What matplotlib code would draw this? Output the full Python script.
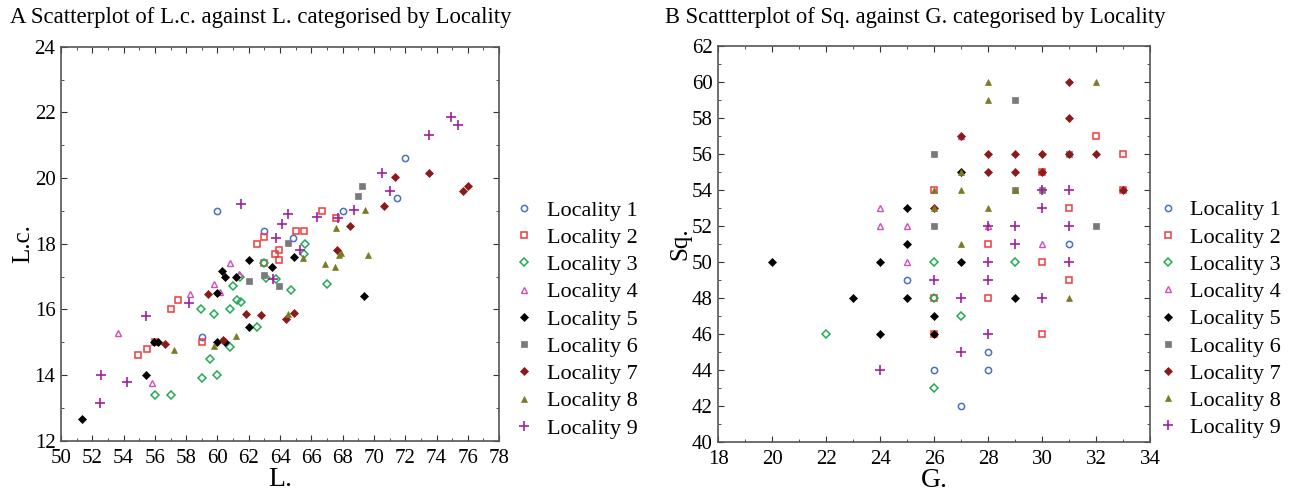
#
# Scatterplots of shell measurements categorised by locality
#
from matplotlib import pyplot as plt
from matplotlib.ticker import MultipleLocator
import numpy as np

plt.rcParams['font.family'] = ['Liberation Serif', 'DejaVu Serif']

labels = ['Locality %d' % i for i in range(1, 10)]

# ---- Plot A : L.c. against L.
a_L = [
  [60.0, 72.0, 71.5, 68.0, 64.8, 63.0, 59.0],
  [66.7, 67.55, 65.0, 65.5, 63.7, 63.95, 63.95, 63.0, 62.5, 63.0, 57.45, 57.0, 59.0, 56.0, 55.5, 54.95],
  [65.6, 65.5, 63.75, 64.7, 67.0, 63.0, 63.1, 61.45, 61.0, 61.25, 61.5, 58.95, 59.8, 60.8, 62.5, 60.8, 59.5, 59.0, 60.0, 56.0, 57.0],
  [60.8, 61.35, 59.8, 60.15, 58.25, 53.65, 55.8],
  [64.9, 63.5, 62.0, 60.3, 60.5, 61.2, 60.0, 69.35, 62.0, 60.0, 60.5, 55.95, 56.2, 55.45, 51.35],
  [69.25, 68.95, 64.5, 63.95, 62.95, 62.0],
  [71.35, 73.5, 75.7, 76.0, 70.65, 68.45, 67.65, 64.9, 64.35, 59.4, 61.8, 62.8, 60.35, 56.65],
  [69.4, 67.55, 65.45, 67.75, 67.9, 69.6, 66.85, 67.5, 64.5, 61.2, 59.75, 57.25],
  [74.95, 75.35, 73.55, 70.5, 71.0, 68.75, 66.35, 67.7, 64.5, 64.15, 63.75, 65.3, 63.55, 61.5, 58.15, 55.45, 52.55, 54.2, 52.5],
]
a_Lc = [
  [19.0, 20.6, 19.4, 19.0, 18.18, 18.4, 15.17],
  [19.0, 18.77, 18.4, 18.4, 17.7, 17.8, 17.5, 18.2, 18.0, 17.4, 16.3, 16.0, 15.0, 15.0, 14.8, 14.6],
  [17.98, 17.7, 16.92, 16.58, 16.78, 17.4, 16.97, 17.0, 16.7, 16.3, 16.22, 16.0, 15.87, 16.0, 15.47, 14.85, 14.5, 13.9, 14.0, 13.4, 13.4],
  [17.42, 17.08, 16.78, 16.52, 16.48, 15.27, 13.77],
  [17.6, 17.3, 17.5, 17.17, 17.0, 17.0, 16.5, 16.4, 15.47, 15.0, 15.0, 15.0, 15.0, 14.0, 12.66],
  [19.75, 19.45, 18.03, 16.7, 17.04, 16.87],
  [20.02, 20.15, 19.62, 19.75, 19.14, 18.55, 17.8, 15.9, 15.7, 16.48, 15.87, 15.84, 15.07, 14.94],
  [19.03, 18.47, 17.57, 17.65, 17.73, 17.66, 17.37, 17.3, 15.87, 15.2, 14.88, 14.76],
  [21.85, 21.62, 21.32, 20.15, 19.62, 19.03, 18.8, 18.77, 18.9, 18.6, 18.18, 17.8, 16.93, 19.2, 16.2, 15.8, 14.0, 13.78, 13.16],
]

# ---- Plot B : Sq. against G.
b_G = [
  [25, 31, 28, 26, 28, 27],
  [28, 30, 31, 26, 28, 26, 30, 32, 33, 30, 26, 33, 31],
  [22, 26, 29, 26, 27, 26],
  [24, 24, 25, 25, 30, 27, 28],
  [20, 23, 24, 24, 25, 25, 25, 27, 26, 26, 29, 27],
  [29, 26, 31, 26, 32, 29, 30],
  [31, 31, 27, 28, 29, 30, 31, 32, 28, 29, 30, 26, 33],
  [28, 32, 28, 27, 26, 27, 29, 26, 28, 27, 31],
  [30, 31, 30, 28, 29, 31, 29, 28, 31, 26, 28, 27, 30, 28, 27, 24],
]
b_Sq = [
  [49, 51, 45, 44, 44, 42],
  [51, 50, 49, 48, 48, 46, 46, 57, 56, 55, 54, 54, 53],
  [46, 50, 50, 48, 47, 43],
  [53, 52, 52, 50, 51, 57, 52],
  [50, 48, 50, 46, 53, 51, 48, 50, 47, 46, 48, 55],
  [59, 56, 56, 52, 52, 54, 54],
  [60, 58, 57, 56, 56, 56, 56, 56, 55, 55, 55, 53, 54],
  [60, 60, 59, 55, 54, 54, 54, 53, 53, 51, 48],
  [54, 54, 53, 52, 52, 52, 51, 50, 50, 49, 49, 48, 48, 46, 45, 44],
]

styles = [
  dict(marker='o', mfc='none', mec='#4a6fc9', ms=4.5, mew=1.1),
  dict(marker='s', mfc='none', mec='#ee3b3b', ms=5, mew=1.1),
  dict(marker='D', mfc='none', mec='#22aa55', ms=4, mew=1.1),
  dict(marker='^', mfc='none', mec='#d050b8', ms=5, mew=1.0),
  dict(marker='D', mfc='black', mec='black', ms=4.2, mew=0.5),
  dict(marker='s', mfc='#7a7a7a', mec='#7a7a7a', ms=5, mew=0.5),
  dict(marker='D', mfc='#8b1a1a', mec='#8b1a1a', ms=4, mew=0.5),
  dict(marker='^', mfc='#7d7a25', mec='#7d7a25', ms=5, mew=0.5),
  dict(marker='+', mfc='none', mec='#a020a0', ms=6.5, mew=1.2),
]

fig = plt.figure(figsize=(12.96, 4.91), dpi=100)

#-------------------------------------------------------------------------------
def style_axes(ax, xmaj, ymaj):
  ax.xaxis.set_major_locator(MultipleLocator(xmaj))
  ax.xaxis.set_minor_locator(MultipleLocator(1))
  ax.yaxis.set_major_locator(MultipleLocator(ymaj))
  ax.yaxis.set_minor_locator(MultipleLocator(1))
  ax.tick_params(which='both', direction='in', top=True, right=True, labelsize=15, colors='#333333', labelcolor='black')
  ax.tick_params(which='major', length=4)
  ax.tick_params(which='minor', length=2.5)
  ax.tick_params(axis='x', which='major', pad=6)
  ax.tick_params(axis='y', which='major', pad=4)
  for s in ax.spines.values():
    s.set_color('#555555')
    s.set_linewidth(1.2)

def scatter(ax, xs, ys, legend_x):
  for i in range(9):
    ax.plot(xs[i], ys[i], linestyle='none', label=labels[i], **styles[i])
  ax.legend(loc='upper left', bbox_to_anchor=(legend_x, 0.633), frameon=False, fontsize=16,
            handlelength=0.8, handletextpad=0.62, labelspacing=0.3, borderaxespad=0, numpoints=1)

# Plot A
ax1 = fig.add_axes([0.0471, 0.1024, 0.338, 0.8025])
scatter(ax1, a_L, a_Lc, 1.016)
ax1.set_xlim(50, 78)
ax1.set_ylim(12, 24)
style_axes(ax1, 2, 2)
ax1.set_xlabel('L.', fontsize=20, labelpad=-1)
ax1.set_ylabel('L.c.', fontsize=18, labelpad=0.5)

# Plot B
ax2 = fig.add_axes([0.5542, 0.1004, 0.3331, 0.8065])
scatter(ax2, b_G, b_Sq, 1.0)
ax2.set_xlim(18, 34)
ax2.set_ylim(40, 62)
style_axes(ax2, 2, 2)
ax2.set_xlabel('G.', fontsize=20, labelpad=-1)
ax2.set_ylabel('Sq.', fontsize=18, labelpad=0)

fig.text(10 / 1296.0, 1 - 18 / 491.0, 'A Scatterplot of L.c. against L. categorised by Locality', fontsize=16.4, va='center', ha='left')
fig.text(665 / 1296.0, 1 - 18 / 491.0, 'B Scattterplot of Sq. against G. categorised by Locality', fontsize=16.3, va='center', ha='left')

fig.savefig('out.png', dpi=100)
